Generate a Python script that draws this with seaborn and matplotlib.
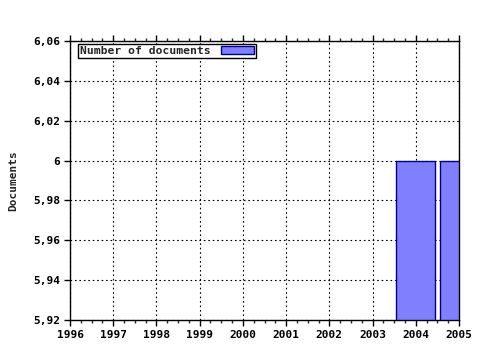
import matplotlib
matplotlib.use("Agg")
import matplotlib.pyplot as plt
import seaborn as sns
import pandas as pd
from matplotlib.patches import Patch
from matplotlib.ticker import MultipleLocator

years = [2004, 2005]
documents = [6, 6]
xticks = list(range(1996, 2006))
yticks = [5.92, 5.94, 5.96, 5.98, 6.00, 6.02, 6.04, 6.06]
ytick_labels = ["5,92", "5,94", "5,96", "5,98", "6", "6,02", "6,04", "6,06"]
series_label = "Number of documents"
ylabel = "Documents"

sns.set_style("white")
plt.rcParams['font.family'] = ['DejaVu Sans Mono', 'DejaVu Sans']
plt.rcParams['font.weight'] = 'bold'

fig = plt.figure(figsize=(4.8, 3.5), dpi=100)
ax = fig.add_axes([70/480, 1 - 320/350, (459 - 70)/480, (320 - 41)/350])

df = pd.DataFrame({"year": years, "docs": documents})
fill = "#8080ff"
edge = "#000080"
sns.barplot(data=df, x="year", y="docs", native_scale=True, width=0.9,
            color=fill, saturation=1, edgecolor=edge, linewidth=1.0, ax=ax, zorder=2)

ax.set_xlim(1996, 2005)
ax.set_ylim(5.92, 6.06)
ax.set_xticks(xticks)
ax.set_xticklabels([str(y) for y in xticks], fontsize=8, fontweight='bold')
ax.xaxis.set_minor_locator(MultipleLocator(0.25))
ax.set_yticks(yticks)
ax.set_yticklabels(ytick_labels, fontsize=8, fontweight='bold')
ax.set_xlabel("")
ax.set_ylabel(ylabel, fontsize=8, fontweight='bold', labelpad=11)

ax.grid(True, which='major', color='black', linestyle=(0, (1.5, 2.5)), linewidth=0.8, zorder=0)
ax.set_axisbelow(True)
for s in ax.spines.values():
    s.set_color('black')
    s.set_linewidth(1.0)

ax.tick_params(axis='x', which='major', direction='out', length=4, width=1,
               bottom=True, top=True, pad=3, colors='black')
ax.tick_params(axis='x', which='minor', direction='out', length=2, width=1,
               bottom=True, top=True)
ax.tick_params(axis='y', which='major', direction='out', length=4, width=1,
               left=True, right=False, pad=3, colors='black')

handle = Patch(facecolor=fill, edgecolor=edge, linewidth=1.0)
leg = ax.legend([handle], [series_label], loc='upper left', bbox_to_anchor=(0.02, 0.99),
                markerfirst=False, frameon=True, fancybox=False, shadow=False,
                prop={'family': 'DejaVu Sans Mono', 'weight': 'bold', 'size': 8.2},
                handlelength=2.9, handleheight=0.6, handletextpad=0.9,
                borderpad=0.2, borderaxespad=0.0)
leg.get_frame().set_edgecolor('black')
leg.get_frame().set_linewidth(1.0)
leg.get_frame().set_alpha(1)

fig.savefig("out.png", dpi=100, facecolor='white')
